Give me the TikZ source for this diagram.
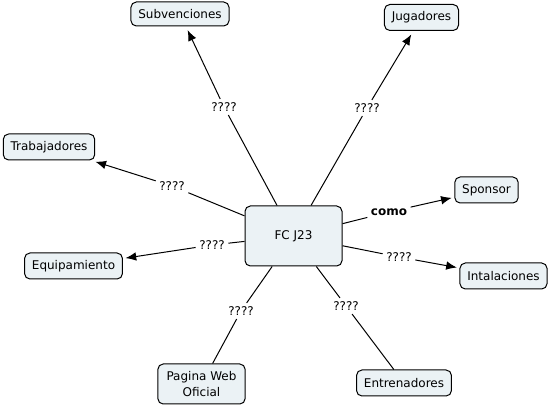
\documentclass[tikz,border=0pt]{standalone}
\usepackage{fontspec}
\setmainfont{DejaVu Sans}
\usepackage{tikz}
\usetikzlibrary{shapes,arrows.meta}
\definecolor{conceptfill}{RGB}{235,242,245}
\tikzstyle{concept} = [draw, rectangle, rounded corners=4pt, fill=conceptfill, line width=0.75pt, inner xsep=5.5pt, minimum height=19.5pt, font=\fontsize{9}{12}\selectfont, align=center]
\tikzstyle{link} = [inner sep=2.5pt, font=\fontsize{9}{12}\selectfont]
\tikzstyle{line} = [line width=0.75pt]

\begin{document}
\begin{tikzpicture}[x=0.75pt, y=-0.75pt, >={Latex[length=8pt,width=6.5pt]}]
    \useasboundingbox (0,0) rectangle (551,406);
    % Define the nodes
    \node [concept, minimum width=72.75pt, minimum height=45pt] (fc) at (293.5,236) {FC J23};
    \node [concept, minimum height=18pt] (subv) at (180,14) {Subvenciones};
    \node [concept] (jug) at (421.5,17.5) {Jugadores};
    \node [concept] (trab) at (49,147) {Trabajadores};
    \node [concept] (spon) at (486.5,190) {Sponsor};
    \node [concept] (equip) at (73.5,266) {Equipamiento};
    \node [concept] (inst) at (503.5,276) {Intalaciones};
    \node [concept, minimum height=30pt, inner xsep=6.5pt] (web) at (201.5,384) {Pagina Web\\Oficial};
    \node [concept] (entr) at (404,383) {Entrenadores};
    % Linking phrases
    \node [link] (l1) at (224,107) {????};
    \node [link] (l2) at (367,108) {????};
    \node [link] (l3) at (172,186) {????};
    \node [link, font=\fontsize{9}{12}\selectfont\bfseries] (l4) at (389,212) {como};
    \node [link] (l5) at (212,245) {????};
    \node [link] (l6) at (399,257) {????};
    \node [link] (l7) at (241,311) {????};
    \node [link] (l8) at (346,306) {????};
    % Connect the nodes
    \draw [line] (fc) -- (l1);
    \draw [line, ->, shorten >=3pt] (l1) -- (subv);
    \draw [line] (fc) -- (l2);
    \draw [line, ->, shorten >=3pt] (l2) -- (jug);
    \draw [line] (fc) -- (l3);
    \draw [line, ->, shorten >=3pt] (l3) -- (trab);
    \draw [line] (fc) -- (l4);
    \draw [line, ->, shorten >=2pt] (l4) -- (spon);
    \draw [line] (fc) -- (l5);
    \draw [line, ->, shorten >=2pt] (l5) -- (equip);
    \draw [line] (fc) -- (l6);
    \draw [line, ->, shorten >=2pt] (l6) -- (inst);
    \draw [line] (fc) -- (l7);
    \draw [line] (l7) -- (web);
    \draw [line] (fc) -- (l8);
    \draw [line] (l8) -- (entr);
\end{tikzpicture}
\end{document}
